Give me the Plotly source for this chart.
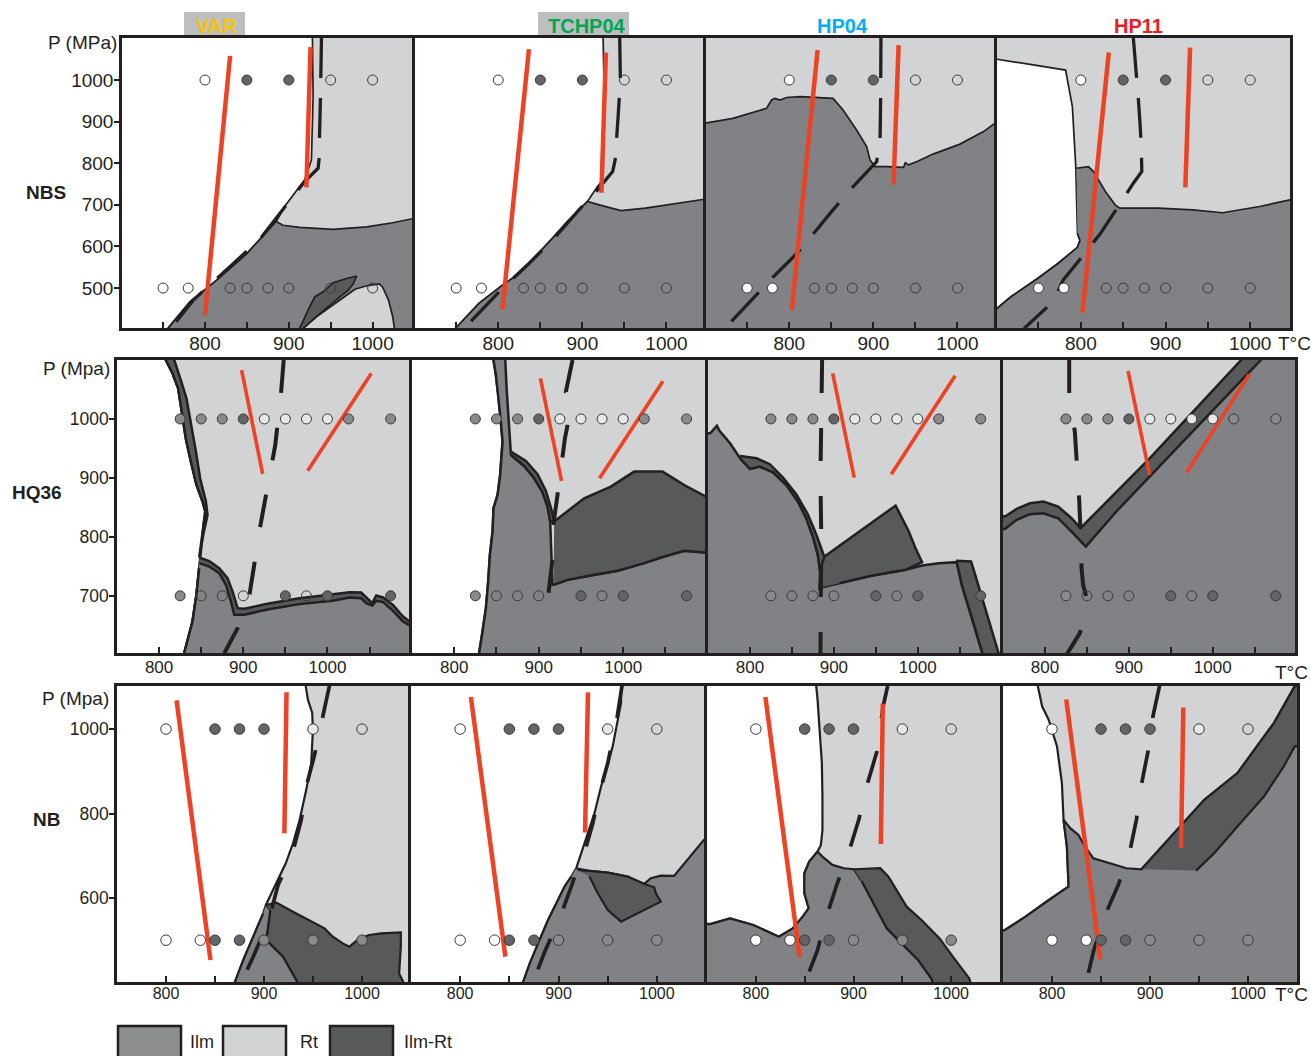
import plotly.graph_objects as go

W, H = 1311, 1056
FONT = "Liberation Sans, Arial, Helvetica, sans-serif"

SAMPLES = ["VAR", "TCHP04", "HP04", "HP11"]
SAMPLE_COLORS = ["#f7c400", "#00a651", "#00aeef", "#ed1c24"]
BULKS = ["NBS", "HQ36", "NB"]

# ---------------- experimental runs (T in °C) ----------------
# fill codes: w white, o open, l light, g grey, d dark grey
NBS_P = [1000, 500]
NBS_T_HI = [800, 850, 900, 950, 1000]
NBS_F_HI = ["w", "d", "d", "o", "o"]
NBS_T_LO = [750, 780, 830, 850, 875, 900, 950, 1000]
NBS_F_LO = ["w", "w", "o", "o", "o", "o", "o", "o"]

HQ36_P = [1000, 700]
HQ36_T_HI = [825, 850, 875, 900, 925, 950, 975, 1000, 1025, 1075]
HQ36_F_HI = ["g", "g", "g", "d", "l", "l", "l", "l", "g", "g"]
HQ36_T_LO = [825, 850, 875, 900, 950, 975, 1000, 1075]
HQ36_F_LO = ["g", "o", "o", "o", "d", "o", "d", "d"]

NB_P = [1000, 500]
NB_T_HI = [800, 850, 875, 900, 950, 1000]
NB_F_HI = ["w", "d", "d", "d", "l", "o"]
NB_T_LO = [800, 835, 850, 875, 900, 950, 1000]
NB_F_LO = ["w", "w", "d", "d", "g", "g", "g"]

# ---------------- NBS phase fields (T, P) ----------------
NBS_VAR_FREE = [(690, 1110), (928, 1110), (928.2, 1100), (929, 960), (927, 808), (919, 760), (895, 696),
                (885, 660), (850, 583), (814, 519), (782, 467), (756, 403), (750, 390), (690, 390)]
NBS_VAR_ILM = [(750, 390), (756, 403), (782, 467), (814, 519), (850, 583), (885, 660), (893, 651),
               (913, 646), (953, 641), (993, 647), (1024, 657), (1048, 668), (1060, 672), (1060, 390)]
NBS_VAR_RT = [(915, 390), (917, 403), (933, 431), (953, 459), (969, 483), (979, 497), (992, 505),
              (1008, 510), (1012, 502), (1019, 471), (1024, 431), (1026, 403), (1027, 390)]
NBS_VAR_ILMRT = [(911, 390), (913, 403), (923, 447), (931, 479), (941, 491), (953, 513), (969, 523),
                 (981, 529), (977, 511), (971, 495), (961, 479), (949, 459), (935, 435), (917, 403), (915, 390)]
NBS_VAR_DASH = [(939, 1101), (938.5, 1000), (937.7, 952), (936, 808), (935, 788), (919, 756), (893, 688),
                (866, 619), (834, 559), (810, 515), (786, 471), (764, 415), (759, 404)]
NBS_VAR_RED1 = [(830, 1058), (800, 435)]
NBS_VAR_RED2 = [(926, 1079), (921, 742)]

NBS_TCHP04_FREE = [(690, 1110), (924.6, 1110), (926, 952), (924.6, 760), (918, 744), (906, 708), (884, 664),
                   (864, 619), (848, 583), (825, 535), (805, 507), (777, 463), (749, 403), (745, 390), (690, 390)]
NBS_TCHP04_ILM = [(745, 390), (749, 403), (777, 463), (805, 507), (825, 535), (848, 583), (864, 619),
                  (884, 664), (906, 708), (920, 700), (946, 686), (975, 692), (1015, 705), (1047, 716),
                  (1060, 718), (1060, 390)]
NBS_TCHP04_DASH = [(944.4, 1101), (945.2, 1000), (942.5, 912), (939, 808), (936, 780), (918, 736), (896, 688),
                   (868, 623), (836.5, 559), (805, 499), (765, 415), (760, 404)]
NBS_TCHP04_RED1 = [(836.5, 1074), (805, 449)]
NBS_TCHP04_RED2 = [(928, 1066), (922.6, 729)]

NBS_HP04_ILM = [(690, 897), (702, 897), (733, 908), (773, 932), (779, 952), (783, 956), (789, 952),
                (797, 958), (813, 960), (852, 956), (864, 928), (880, 880), (892, 840), (896, 808),
                (902, 792), (916, 792), (936, 790), (938, 801), (942, 796), (952, 804), (971, 822),
                (1003, 846), (1031, 876), (1047, 900), (1060, 910), (1060, 390), (690, 390)]
NBS_HP04_DASH = [(909, 1101), (909, 1004), (908.6, 950), (908, 860), (904, 804), (876, 744), (852, 688),
                 (829, 631), (809, 583), (781, 527), (753, 467), (729, 415), (722, 404)]
NBS_HP04_RED1 = [(833.7, 1072), (803, 447)]
NBS_HP04_RED2 = [(930, 1084), (924, 749)]

NBS_HP11_FREE = [(690, 1053), (701, 1050), (782, 1024), (790, 936), (794, 792), (796, 631), (799, 615),
                 (796, 598), (773, 559), (749, 523), (717.5, 479), (701, 451), (690, 445)]
NBS_HP11_ILM = [(794.8, 788), (809, 792), (815, 780), (829, 732), (840.5, 700), (846, 692), (892, 692),
                (932, 688), (967.5, 681), (1011, 696), (1047, 712), (1060, 715), (1060, 390), (690, 390),
                (690, 445), (701, 451), (717.5, 479), (749, 523), (773, 559), (796, 598), (799, 615), (796, 631)]
NBS_HP11_DASH = [(862, 1101), (865, 1036), (868, 952), (870, 892), (871.4, 840), (872, 780), (862, 752),
                 (848, 708), (823, 631), (803, 579), (779, 519), (767, 467), (733, 403)]
NBS_HP11_RED1 = [(833, 1066), (802, 441)]
NBS_HP11_RED2 = [(929, 1078), (923.4, 742)]

# ---------------- HQ36 phase fields ----------------
HQ36_VAR_FREE = [(740, 1110), (806.5, 1110), (808, 1100), (816, 1077), (822.6, 1052), (827, 1012),
                 (831.7, 967), (837.7, 928), (844.4, 888), (851.6, 860), (854.8, 843), (852.4, 815),
                 (849.6, 781), (847.6, 747), (844.4, 702), (839.7, 656.5), (835.7, 634), (829.8, 603),
                 (828, 590), (740, 590)]
HQ36_VAR_ILMRT_A = [(806.5, 1110), (808, 1100), (816, 1077), (822.6, 1052), (827, 1012), (831.7, 967),
                    (837.7, 928), (844.4, 888), (851.6, 860), (854.8, 843), (852.4, 815), (849.6, 781),
                    (847.6, 765), (852.4, 803), (857.5, 837), (855.6, 860), (848.8, 899), (843.7, 945),
                    (837.7, 990), (832.5, 1035), (825.8, 1066), (818, 1100), (817, 1110)]
HQ36_VAR_ILMRT_B = [(847.6, 765), (859.5, 759), (871.4, 747), (881.3, 730), (887.3, 707), (893.3, 679),
                    (901.2, 678), (927, 686), (966.7, 696), (986.5, 699.4), (1006.3, 701.7), (1026.2, 706.2),
                    (1040, 705.6), (1046, 697.2), (1053.2, 687.6), (1057.9, 700.6), (1065.9, 697.2),
                    (1077.8, 684.7), (1089.7, 665), (1097.6, 656.5), (1110, 650), (1110, 590), (828, 590),
                    (829.8, 603), (835.7, 634), (839.7, 656.5), (844.4, 702), (847.6, 747)]
HQ36_VAR_ILM = [(847.6, 755.4), (859.5, 749.7), (871.4, 738.4), (879.4, 718.6), (885.3, 690.4),
                (889.3, 667.8), (901.2, 667.8), (927, 676.3), (966.7, 685.9), (986.5, 689.3),
                (1006.3, 691.5), (1026.2, 697.2), (1040, 696), (1046, 687.6), (1053.2, 683.6),
                (1057.9, 691.5), (1065.9, 689.3), (1077.8, 674.6), (1089.7, 656.5), (1097.6, 649.7),
                (1110, 643), (1110, 590), (828, 590), (829.8, 603), (835.7, 634), (839.7, 656.5),
                (844.4, 702), (847.6, 747)]
HQ36_VAR_DASH = [(948, 1100), (944.8, 1043.5), (938, 956), (927, 871), (919, 809), (913, 752.5),
                 (907, 699), (893.3, 645), (877.4, 602.8)]
HQ36_VAR_RED1 = [(898, 1083), (923, 907)]
HQ36_VAR_RED2 = [(1052, 1077), (976.5, 912)]

HQ36_TCHP04_FREE = [(740, 1110), (846, 1110), (846.5, 1100), (849.3, 1074.6), (852.1, 1040.7),
                    (855.2, 995.5), (857.2, 961.6), (856, 939), (854.4, 905), (851.3, 871.2), (846.5, 848.6),
                    (845.4, 809), (842.2, 769.5), (840.2, 724.3), (837.5, 679), (833.5, 639.5),
                    (829.6, 602.8), (828, 590), (740, 590)]
HQ36_TCHP04_ILM = [(846, 1110), (846.5, 1100), (849.3, 1074.6), (852.1, 1040.7), (855.2, 995.5),
                   (857.2, 961.6), (856, 939), (854.4, 905), (851.3, 871.2), (846.5, 848.6), (845.4, 809),
                   (842.2, 769.5), (840.2, 724.3), (837.5, 679), (833.5, 639.5), (829.6, 602.8), (828, 590),
                   (1110, 590), (1110, 773), (1097.8, 773.4), (1072.2, 776.3), (1048.5, 766.7),
                   (1024.9, 755.4), (993.3, 742.4), (965.7, 735.6), (934.1, 727.1), (917.6, 718.6),
                   (916.4, 718.6), (914.4, 792), (913.6, 826), (910.5, 851.4), (904.5, 875.7),
                   (894.7, 899.4), (882.8, 920.3), (867.1, 939), (866, 961.6), (864.1, 995.5), (862, 1052),
                   (860.4, 1100), (860, 1110)]
HQ36_TCHP04_BAND = [(867.1, 944.6), (884.8, 928.8), (898.6, 906.2), (908.5, 878), (914.4, 849.7),
                    (918.3, 826), (913.6, 826), (910.5, 851.4), (904.5, 875.7), (894.7, 899.4),
                    (882.8, 920.3), (867.1, 939)]
HQ36_TCHP04_ILMRT = [(918.3, 826), (934.1, 843), (953.8, 865.5), (985.4, 885.3), (1013, 910.7),
                     (1046.5, 910.7), (1072.2, 888), (1097.8, 868.4), (1110, 862), (1110, 773),
                     (1097.8, 773.4), (1072.2, 776.3), (1048.5, 766.7), (1024.9, 755.4), (993.3, 742.4),
                     (965.7, 735.6), (934.1, 727.1), (917.6, 718.6)]
HQ36_TCHP04_DASH = [(940, 1100), (932.1, 1046), (938, 1038), (935, 995.5), (931, 967), (928.2, 933),
                    (923, 879.7), (917.6, 823), (916.4, 763.8), (911.6, 704.5), (895.5, 656.5)]
HQ36_TCHP04_RED1 = [(902, 1069), (927, 895)]
HQ36_TCHP04_RED2 = [(1047, 1064), (972, 899.5)]

HQ36_HP04_ILM = [(740, 975.7), (752.7, 975.7), (760.6, 988.7), (763.7, 979.7), (776.3, 958.8),
                 (788.2, 933.3), (800, 915.3), (811.8, 919.2), (827.6, 909.6), (843.4, 888), (857.2, 859.9),
                 (867.1, 831.6), (875, 800.6), (880.9, 769.5), (883.6, 741.2), (882.8, 713), (884.8, 714.1),
                 (906.5, 721.5), (946, 734.5), (985.4, 744.1), (1005.1, 751.4), (1024.9, 755.4),
                 (1046.5, 757.1), (1052.5, 718.6), (1060.4, 681.9), (1068.2, 645.2), (1077, 602.8),
                 (1079, 590), (740, 590)]
HQ36_HP04_BAND = [(788.2, 937.3), (807.9, 933.3), (823.7, 923.2), (839.4, 900.6), (855.2, 872.3),
                  (869, 838.4), (878.9, 804.5), (886.8, 772.9), (889.5, 762.7), (883.6, 741.2),
                  (880.9, 769.5), (875, 800.6), (867.1, 831.6), (857.2, 859.9), (843.4, 888),
                  (827.6, 909.6), (811.8, 919.2), (800, 915.3), (788.2, 933.3)]
HQ36_HP04_ILMRT = [(884, 714), (884, 745), (888.8, 766.7), (973.6, 853.1), (989.3, 809), (997.2, 781),
                   (1005.1, 757.1), (985.4, 744.1), (946, 734.5), (906.5, 721.5)]
HQ36_HP04_EDGE = [(1045.4, 759.3), (1063.5, 758.2), (1069, 732.8), (1078.1, 690.4), (1088, 645.2),
                  (1096.6, 602.8), (1099, 590), (1079, 590), (1077, 602.8), (1068.2, 645.2),
                  (1060.4, 681.9), (1052.5, 718.6), (1046.5, 757.1)]
HQ36_HP04_DASH = [(886, 1100), (885, 1000), (884, 900), (885, 800), (884, 700), (884, 600)]
HQ36_HP04_RED1 = [(898.6, 1077.4), (924.3, 900.6)]
HQ36_HP04_RED2 = [(1044.6, 1073.4), (968.4, 906.2)]

HQ36_HP11_ILMRT = [(740, 839), (752.5, 834.5), (766.3, 847.5), (782.2, 857), (798, 859.9), (815.8, 851.4),
                   (831.7, 831.6), (842.4, 814.7), (924.8, 933.3), (1031.7, 1097), (1040.4, 1110),
                   (1110, 1110), (1110, 590), (740, 590)]
HQ36_HP11_ILM = [(740, 810), (752.5, 813.6), (766.3, 828.8), (782.2, 838.4), (798, 840.1), (815.8, 831.6),
                 (831.7, 809), (848.7, 783.6), (885.1, 843), (924.8, 902.3), (964.4, 961.6),
                 (1055.4, 1097), (1064, 1110), (1110, 1110), (1110, 590), (740, 590)]
HQ36_HP11_DASH = [(828.9, 1100), (828.9, 1040), (835.6, 978.5), (838.4, 925), (840.8, 862.7),
                  (842.4, 809), (843.6, 747), (845.5, 718.6), (850.3, 693.2), (848, 670), (841.6, 636.7),
                  (825.7, 600)]
HQ36_HP11_RED1 = [(899, 1081.4), (924.8, 905)]
HQ36_HP11_RED2 = [(1043.6, 1075.7), (969.1, 909.6)]

# ---------------- NB phase fields ----------------
NB_VAR_FREE = [(740, 1110), (942.5, 1110), (942.5, 1102.8), (944.8, 1069.6), (949.2, 1038),
               (949.9, 998.4), (948.2, 919.4), (943.1, 856.1), (936.4, 785), (929.6, 729.6),
               (922.2, 682.2), (912.7, 634.8), (905.9, 603.2), (901.9, 583.4), (899.2, 563.6),
               (889, 508.3), (878.8, 452.9), (870.4, 401.6), (869, 390), (740, 390)]
NB_VAR_ILM = [(901.9, 583.4), (906.6, 571.5), (902.5, 500.4), (919.5, 460.9), (934, 401.6), (936, 390),
              (869, 390), (870.4, 401.6), (878.8, 452.9), (889, 508.3), (899.2, 563.6)]
NB_VAR_ILMRT = [(901.9, 583.4), (912.7, 589), (926.2, 571.5), (946.5, 547.8), (961.8, 528),
                (970.2, 508.3), (980.4, 492.5), (987.1, 484.6), (997.3, 504.3), (1007.4, 512.3),
                (1019.3, 516.2), (1039.6, 518.6), (1039.6, 484.6), (1037.9, 421.3), (1042, 401.6),
                (1043, 390), (936, 390), (934, 401.6), (919.5, 460.9), (902.5, 500.4), (906.6, 571.5)]
NB_VAR_DASH = [(966.8, 1102.8), (959.4, 1026), (951.6, 939), (943.1, 864), (938, 785), (929, 706),
               (914.4, 630.8), (907.6, 571.5), (899.2, 516), (889, 460.9), (878.8, 409.5), (876, 401)]
NB_VAR_RED1 = [(810.8, 1068), (845.4, 453)]
NB_VAR_RED2 = [(923, 1087), (920.8, 753)]

NB_TCHP04_FREE = [(740, 1110), (963.6, 1110), (963.6, 1061.7), (960.2, 1022), (955.1, 958.9),
                  (948.4, 903.6), (943.3, 864), (936.6, 800.8), (929.8, 753.4), (923.1, 706),
                  (918, 670.4), (913, 650.6), (906.2, 626.9), (899.5, 595.3), (889.4, 547.8),
                  (879.3, 492.5), (870.8, 445), (864.1, 401.6), (862, 390), (740, 390)]
NB_TCHP04_ILM = [(918, 670.4), (929.8, 664.8), (950.1, 660), (970.3, 650.6), (987.2, 633.2),
                 (993.9, 646.6), (1004, 653), (1017.5, 652.2), (1047.9, 737.5), (1060, 750), (1060, 390),
                 (862, 390), (864.1, 401.6), (870.8, 445), (879.3, 492.5), (889.4, 547.8), (899.5, 595.3),
                 (906.2, 626.9), (913, 650.6)]
NB_TCHP04_ILMRT = [(919.7, 666.4), (929.8, 664.8), (950.1, 660), (970.3, 650.6), (987.2, 633.2),
                   (997.3, 625.3), (999, 611), (1004, 591.3), (983.8, 567.6), (963.6, 543.9),
                   (950.1, 571.5), (940, 611), (931.5, 650.6)]
NB_TCHP04_DASH = [(964.6, 1102.8), (959.5, 1026), (950.1, 919.4), (941.7, 848.2), (934.9, 777),
                  (928.2, 721.7), (919.7, 674.3), (913, 626.9), (901.2, 551.8), (886, 472.7),
                  (874.2, 401.6)]
NB_TCHP04_RED1 = [(810.9, 1076), (846, 461)]
NB_TCHP04_RED2 = [(930, 1087), (927, 755)]

NB_HP04_FREE = [(740, 1110), (861.5, 1110), (863.2, 1069.6), (865.5, 998.4), (867.6, 919.4),
                (868.2, 840.3), (868.2, 761.3), (866.6, 725.7), (863.2, 709.9), (854.7, 686.2),
                (849.7, 658.5), (849.7, 611), (854.1, 575.5), (848, 555.7), (837.8, 528), (823.6, 508.3),
                (797.3, 536), (773.6, 551.8), (753.4, 538.3), (740, 540)]
NB_HP04_ILM = [(740, 540), (753.4, 538.3), (773.6, 551.8), (797.3, 536), (823.6, 508.3), (837.8, 528),
               (848, 555.7), (854.1, 575.5), (849.7, 611), (849.7, 658.5), (854.7, 686.2), (863.2, 709.9),
               (868.2, 698), (878.4, 678.3), (890.2, 670.4), (900.3, 668), (908.8, 638.7), (922.3, 579.4),
               (934.1, 528), (949.3, 492.5), (966.2, 453), (979.7, 409.5), (983, 390), (740, 390)]
NB_HP04_ILMRT = [(900.3, 668), (927.4, 670.4), (935.8, 650.6), (954.4, 579.4), (969.6, 547.8),
                 (988.2, 504.3), (1001.7, 460.9), (1018.6, 409.5), (1021, 390), (983, 390),
                 (979.7, 409.5), (966.2, 453), (949.3, 492.5), (934.1, 528), (922.3, 579.4), (908.8, 638.7)]
NB_HP04_DASH = [(935, 1102), (930.7, 1057.7), (927, 1000), (924, 947), (913.9, 868), (905.4, 785),
                (895.3, 709.9), (883.4, 634.8), (872.3, 555.7), (863.2, 476.7), (851.4, 405.5)]
NB_HP04_RED1 = [(809.8, 1076), (845, 459)]
NB_HP04_RED2 = [(930, 1060), (928, 728)]

NB_HP11_FREE = [(740, 1110), (784.8, 1110), (789.9, 1053.8), (796.6, 1022.1), (805.1, 958.9),
                (810.1, 872), (811.8, 785), (815.2, 721.7), (816.9, 626.9), (811.8, 619), (796.6, 595.3),
                (773, 555.7), (752, 524.1), (740, 515)]
NB_HP11_ILM = [(740, 515), (752, 524.1), (773, 555.7), (796.6, 595.3), (811.8, 619), (816.9, 626.9),
               (815.2, 721.7), (811.8, 785), (818.6, 765.2), (827, 749.4), (833.8, 721.7), (842.2, 694),
               (857.4, 683.8), (876, 670.4), (891.2, 668), (921.6, 745.5), (955.4, 832.4), (989.2, 895.7),
               (1026.4, 1014.2), (1047.6, 1101.2), (1060, 1110), (1060, 390), (740, 390)]
NB_HP11_ILMRT = [(891.2, 668), (921.6, 745.5), (955.4, 832.4), (989.2, 895.7), (1026.4, 1014.2),
                 (1047.6, 1101.2), (1060, 1110), (1060, 958.9), (1047.6, 958.9), (1036.5, 911.5),
                 (1016.2, 840.3), (989.2, 769.2), (965.5, 705.9), (947, 664.8)]
NB_HP11_DASH = [(909.8, 1102.8), (903, 1030), (898, 947), (891.2, 868), (886.1, 785), (879.4, 709.9),
                (867.6, 630.8), (853.4, 555.7), (842.2, 472.7), (836.5, 409.5), (835, 401)]
NB_HP11_RED1 = [(814.5, 1070), (849.4, 455)]
NB_HP11_RED2 = [(934, 1051), (931.7, 719)]

# ---------------- styling ----------------
C_RT, C_ILM, C_ILMRT, C_FREE = "#d1d3d4", "#808285", "#58595b", "#ffffff"
C_RED = "#ef4123"
C_INK = "#231f20"
MARK_FILL = {"w": "#ffffff", "o": "rgba(0,0,0,0)", "l": "#e6e7e8", "g": "#898a8d", "d": "#636467"}

PANELS = [
    [
        dict(fields=[(NBS_VAR_FREE, C_FREE), (NBS_VAR_ILM, C_ILM), (NBS_VAR_RT, C_RT), (NBS_VAR_ILMRT, C_ILMRT)],
             dash=NBS_VAR_DASH, red=[NBS_VAR_RED1, NBS_VAR_RED2]),
        dict(fields=[(NBS_TCHP04_FREE, C_FREE), (NBS_TCHP04_ILM, C_ILM)],
             dash=NBS_TCHP04_DASH, red=[NBS_TCHP04_RED1, NBS_TCHP04_RED2]),
        dict(fields=[(NBS_HP04_ILM, C_ILM)],
             dash=NBS_HP04_DASH, red=[NBS_HP04_RED1, NBS_HP04_RED2]),
        dict(fields=[(NBS_HP11_FREE, C_FREE), (NBS_HP11_ILM, C_ILM)],
             dash=NBS_HP11_DASH, red=[NBS_HP11_RED1, NBS_HP11_RED2]),
    ],
    [
        dict(fields=[(HQ36_VAR_FREE, C_FREE), (HQ36_VAR_ILMRT_A, C_ILMRT), (HQ36_VAR_ILMRT_B, C_ILMRT),
                     (HQ36_VAR_ILM, C_ILM)],
             dash=HQ36_VAR_DASH, red=[HQ36_VAR_RED1, HQ36_VAR_RED2]),
        dict(fields=[(HQ36_TCHP04_FREE, C_FREE), (HQ36_TCHP04_ILM, C_ILM), (HQ36_TCHP04_BAND, C_ILMRT),
                     (HQ36_TCHP04_ILMRT, C_ILMRT)],
             dash=HQ36_TCHP04_DASH, red=[HQ36_TCHP04_RED1, HQ36_TCHP04_RED2]),
        dict(fields=[(HQ36_HP04_ILM, C_ILM), (HQ36_HP04_BAND, C_ILMRT), (HQ36_HP04_ILMRT, C_ILMRT),
                     (HQ36_HP04_EDGE, C_ILMRT)],
             dash=HQ36_HP04_DASH, red=[HQ36_HP04_RED1, HQ36_HP04_RED2]),
        dict(fields=[(HQ36_HP11_ILMRT, C_ILMRT), (HQ36_HP11_ILM, C_ILM)],
             dash=HQ36_HP11_DASH, red=[HQ36_HP11_RED1, HQ36_HP11_RED2]),
    ],
    [
        dict(fields=[(NB_VAR_FREE, C_FREE), (NB_VAR_ILM, C_ILM), (NB_VAR_ILMRT, C_ILMRT)],
             dash=NB_VAR_DASH, red=[NB_VAR_RED1, NB_VAR_RED2]),
        dict(fields=[(NB_TCHP04_FREE, C_FREE), (NB_TCHP04_ILM, C_ILM), (NB_TCHP04_ILMRT, C_ILMRT)],
             dash=NB_TCHP04_DASH, red=[NB_TCHP04_RED1, NB_TCHP04_RED2]),
        dict(fields=[(NB_HP04_FREE, C_FREE), (NB_HP04_ILM, C_ILM), (NB_HP04_ILMRT, C_ILMRT)],
             dash=NB_HP04_DASH, red=[NB_HP04_RED1, NB_HP04_RED2]),
        dict(fields=[(NB_HP11_FREE, C_FREE), (NB_HP11_ILM, C_ILM), (NB_HP11_ILMRT, C_ILMRT)],
             dash=NB_HP11_DASH, red=[NB_HP11_RED1, NB_HP11_RED2]),
    ],
]

RUNS = [
    [(NBS_T_HI, NBS_P[0], NBS_F_HI), (NBS_T_LO, NBS_P[1], NBS_F_LO)],
    [(HQ36_T_HI, HQ36_P[0], HQ36_F_HI), (HQ36_T_LO, HQ36_P[1], HQ36_F_LO)],
    [(NB_T_HI, NB_P[0], NB_F_HI), (NB_T_LO, NB_P[1], NB_F_LO)],
]

ROW_STYLE = [
    dict(trange=(701, 1047), prange=(404, 1101), pticks=[500, 600, 700, 800, 900, 1000],
         tticks=[750, 800, 850, 900, 950, 1000], tfont=19, pfont=19, outline=1.7, dash_w=3.3,
         dash="40px,20px", red_w=4.5, ptitle="P (MPa)", msize=10, tstand=-4, pstand=-3),
    dict(trange=(750, 1098), prange=(603, 1100), pticks=[700, 800, 900, 1000],
         tticks=[800, 850, 900, 950, 1000, 1050], tfont=17, pfont=17.5, outline=2.5, dash_w=4,
         dash="33px,35px", red_w=3.6, ptitle="P (Mpa)", msize=10, tstand=-3, pstand=-3),
    dict(trange=(750, 1050), prange=(401, 1102), pticks=[600, 800, 1000],
         tticks=[800, 850, 900, 950, 1000], tfont=16, pfont=17.5, outline=2.2, dash_w=3.7,
         dash="33px,33px", red_w=4.5, ptitle="P (Mpa)", msize=10.5, tstand=-5, pstand=-3),
]

# panel frames in page pixels
COL_PX = [
    [(122, 412), (415, 706), (706, 997), (997, 1290)],
    [(117, 410), (412, 706), (708, 1000), (1003, 1295)],
    [(117, 411), (411, 706), (707, 1000), (1003, 1297)],
]
ROW_PX = [(38, 328), (360, 653), (686, 982)]


def px(x):
    return x / W


def py(y):
    return 1 - y / H


fig = go.Figure()
layout = {}

for r in range(3):
    st = ROW_STYLE[r]
    t0, t1 = st["trange"]
    p0, p1 = st["prange"]
    for c in range(4):
        idx = r * 4 + c + 1
        xa = "x" if idx == 1 else f"x{idx}"
        ya = "y" if idx == 1 else f"y{idx}"
        xkey = "xaxis" if idx == 1 else f"xaxis{idx}"
        ykey = "yaxis" if idx == 1 else f"yaxis{idx}"
        x0, x1 = COL_PX[r][c]
        y0, y1 = ROW_PX[r]
        layout[xkey] = dict(
            domain=[px(x0), px(x1)], range=[t0, t1], anchor=ya,
            showgrid=False, zeroline=False, showline=True, mirror=True,
            linecolor=C_INK, linewidth=2.5,
            ticks="inside", ticklen=6, tickwidth=1.5, tickcolor=C_INK,
            tickvals=st["tticks"],
            ticktext=[str(v) if v % 100 == 0 else "" for v in st["tticks"]],
            tickfont=dict(family=FONT, size=st["tfont"], color=C_INK),
            ticklabelstandoff=st["tstand"],
        )
        first = c == 0
        layout[ykey] = dict(
            domain=[py(y1), py(y0)], range=[p0, p1], anchor=xa,
            showgrid=False, zeroline=False, showline=True, mirror=True,
            linecolor=C_INK, linewidth=2.5,
            ticks="outside" if first else "", ticklen=5, tickwidth=1.5, tickcolor=C_INK,
            tickvals=st["pticks"] if first else [],
            showticklabels=first,
            tickfont=dict(family=FONT, size=st["pfont"], color=C_INK),
            ticklabelstandoff=st["pstand"],
        )

        # rutile stability as background of each section
        bg_t = [t0 - 20, t1 + 20, t1 + 20, t0 - 20]
        bg_p = [p0 - 20, p0 - 20, p1 + 20, p1 + 20]
        fig.add_trace(go.Scatter(x=bg_t, y=bg_p, xaxis=xa, yaxis=ya, mode="lines", fill="toself",
                                 fillcolor=C_RT, line=dict(width=0), hoverinfo="skip", showlegend=False))
        spec = PANELS[r][c]
        for poly, col in spec["fields"]:
            fig.add_trace(go.Scatter(
                x=[p[0] for p in poly], y=[p[1] for p in poly], xaxis=xa, yaxis=ya,
                mode="lines", fill="toself", fillcolor=col,
                line=dict(color=C_INK, width=st["outline"]), hoverinfo="skip", showlegend=False))
        d = spec["dash"]
        fig.add_trace(go.Scatter(
            x=[p[0] for p in d], y=[p[1] for p in d], xaxis=xa, yaxis=ya, mode="lines",
            line=dict(color=C_INK, width=st["dash_w"], dash=st["dash"]),
            hoverinfo="skip", showlegend=False))
        for seg in spec["red"]:
            fig.add_trace(go.Scatter(
                x=[p[0] for p in seg], y=[p[1] for p in seg], xaxis=xa, yaxis=ya, mode="lines",
                line=dict(color=C_RED, width=st["red_w"]), hoverinfo="skip", showlegend=False))
        for temps, pres, fills in RUNS[r]:
            fig.add_trace(go.Scatter(
                x=temps, y=[pres] * len(temps), xaxis=xa, yaxis=ya, mode="markers",
                marker=dict(size=st["msize"], color=[MARK_FILL[f] for f in fills],
                            line=dict(color="#3a3a3a", width=1)),
                hoverinfo="skip", showlegend=False))

annotations = []
shapes = []

# sample headers
HEAD_X = [216, 587, 842, 1138]
BOX_PX = [(184, 245), (538, 629)]
for bx0, bx1 in BOX_PX:
    shapes.append(dict(type="rect", xref="paper", yref="paper", x0=px(bx0), x1=px(bx1),
                       y0=py(38), y1=py(12), fillcolor="#bcbec0", line=dict(width=0), layer="below"))
for name, colr, hx in zip(SAMPLES, SAMPLE_COLORS, HEAD_X):
    annotations.append(dict(text=f"<b>{name}</b>", x=px(hx), y=py(26), xref="paper", yref="paper",
                            xanchor="center", yanchor="middle", showarrow=False,
                            font=dict(family=FONT, size=20, color=colr)))

# bulk-composition labels
ROW_LABEL_POS = [(46, 193), (37, 493), (46, 819)]
for name, (lx, ly) in zip(BULKS, ROW_LABEL_POS):
    annotations.append(dict(text=f"<b>{name}</b>", x=px(lx), y=py(ly), xref="paper", yref="paper",
                            xanchor="center", yanchor="middle", showarrow=False,
                            font=dict(family=FONT, size=19, color=C_INK)))

# axis titles
P_TITLE_POS = [(119, 42), (112, 369), (111, 698)]
for st, (tx, ty) in zip(ROW_STYLE, P_TITLE_POS):
    annotations.append(dict(text=st["ptitle"], x=px(tx), y=py(ty), xref="paper", yref="paper",
                            xanchor="right", yanchor="middle", showarrow=False,
                            font=dict(family=FONT, size=19, color=C_INK)))
T_TITLE_POS = [(1276, 343), (1273, 672), (1273, 994)]
for tx, ty in T_TITLE_POS:
    annotations.append(dict(text="T°C", x=px(tx), y=py(ty), xref="paper", yref="paper",
                            xanchor="left", yanchor="middle", showarrow=False,
                            font=dict(family=FONT, size=19, color=C_INK)))

# legend swatches
LEGEND_NAMES = ["Ilm", "Rt", "Ilm-Rt"]
LEGEND_COLORS = ["#8c8e90", C_RT, C_ILMRT]
LEGEND_BOX = [(118, 181), (223, 286), (330, 393)]
LEGEND_TEXT_X = [188, 298, 402]
for name, colr, (bx0, bx1), tx in zip(LEGEND_NAMES, LEGEND_COLORS, LEGEND_BOX, LEGEND_TEXT_X):
    shapes.append(dict(type="rect", xref="paper", yref="paper", x0=px(bx0), x1=px(bx1),
                       y0=py(1070), y1=py(1026), fillcolor=colr, line=dict(color=C_INK, width=2.5)))
    annotations.append(dict(text=name, x=px(tx), y=py(1042), xref="paper", yref="paper",
                            xanchor="left", yanchor="middle", showarrow=False,
                            font=dict(family=FONT, size=18, color=C_INK)))

fig.update_layout(
    width=W, height=H, autosize=False,
    margin=dict(l=0, r=0, t=0, b=0),
    paper_bgcolor="white", plot_bgcolor="white",
    showlegend=False,
    annotations=annotations, shapes=shapes,
    **layout,
)

fig.write_html("out.html")
